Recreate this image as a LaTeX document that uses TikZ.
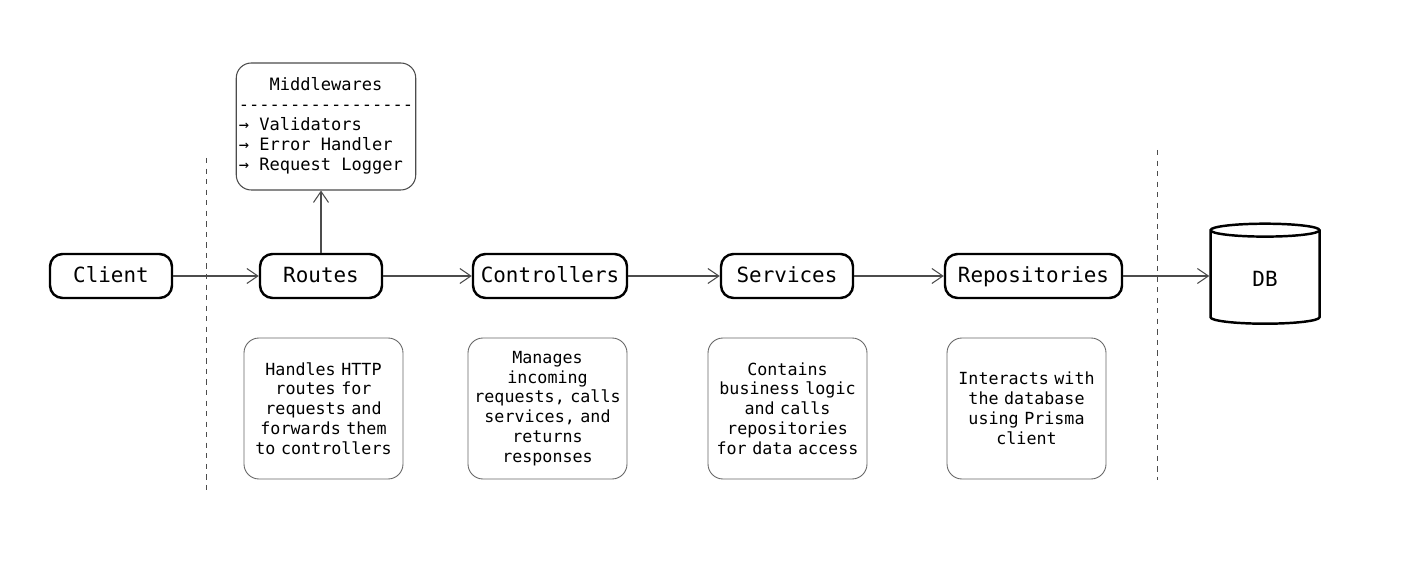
\documentclass[tikz,border=0pt]{standalone}
\usepackage{fontspec}
\setmonofont{DejaVu Sans Mono}
\usetikzlibrary{arrows.meta}
\usetikzlibrary{shapes.geometric}
\newcommand{\drawlayer}[3]{
	\node (#2) at #1 [shape=rectangle,draw,line width=1.4pt,rounded corners=2.5mm,minimum height=0.88cm,inner sep=1mm,text height=0.73em,text depth=0pt,font=\ttfamily\fontsize{11.9}{14}\selectfont] {#3};
}
\newcommand{\drawnote}[3]{
	\node (#2) at #1 [shape=rectangle,draw=black!60,line width=0.5pt,rounded corners=3mm,minimum height=2.82cm,minimum width=3.18cm,inner sep=0.5mm,text width=3.08cm,align=center,font=\ttfamily\fontsize{9.5}{11.3}\selectfont] {#3};
}

\begin{document}
\begin{tikzpicture}[flow/.style={draw=black!70,line width=0.6pt,-{Straight Barb[length=2.2mm,width=3mm]}}]
	\useasboundingbox (0,0) rectangle (28.24,-11.56);
	\drawlayer{(2.22,-5.52)}{client}{\makebox[2.24cm]{Client}}
	\drawlayer{(6.42,-5.52)}{routes}{\makebox[2.24cm]{Routes}}
	\drawlayer{(11.0,-5.52)}{ctrl}{\makebox[2.88cm]{Controllers}}
	\drawlayer{(15.74,-5.52)}{serv}{\makebox[2.44cm]{Services}}
	\drawlayer{(20.67,-5.52)}{repo}{\makebox[3.34cm]{Repositories}}
	\node (db) at (25.3,-5.58) [shape=cylinder,shape border rotate=90,aspect=0.35,draw,line width=1.4pt,minimum width=2.18cm,minimum height=2.0cm,font=\ttfamily\fontsize{11.9}{14}\selectfont] {DB};
	\node (mw) at (6.52,-2.53) [shape=rectangle,draw=black!70,line width=0.6pt,rounded corners=3mm,minimum width=3.52cm,minimum height=2.54cm,inner sep=0.5mm,font=\ttfamily\fontsize{9.7}{11.3}\selectfont] {\begin{tabular}{@{}l@{}}\multicolumn{1}{@{}c@{}}{Middlewares}\\-----------------\\→ Validators\\→ Error Handler\\→ Request Logger\end{tabular}};
	\drawnote{(6.47,-8.17)}{routesnote}{Handles HTTP\\routes for\\requests and\\forwards them\\to controllers}
	\drawnote{(10.95,-8.17)}{ctrlnote}{Manages\\incoming\\requests, calls\\services, and\\returns\\responses}
	\drawnote{(15.75,-8.17)}{servnote}{Contains\\business logic\\and calls\\repositories\\for data access}
	\drawnote{(20.53,-8.17)}{reponote}{Interacts with\\the database\\using Prisma\\client}
	% boundaries
	\coordinate (la) at (4.12,-3.16); \coordinate (lb) at (4.12,-9.8);
	\coordinate (ra) at (23.14,-3.0); \coordinate (rb) at (23.14,-9.6);
	\draw[dashed,black!70,line width=0.5pt] (la) -- (lb) (ra) -- (rb);
	% request flow
	\draw[flow] (client) -- (routes);
	\draw[flow] (routes) -- (ctrl);
	\draw[flow] (ctrl) -- (serv);
	\draw[flow] (serv) -- (repo);
	\draw[flow] (repo.east) -- (repo.east -| db.west);
	\draw[flow] (routes.north) -- (routes.north |- mw.south);
\end{tikzpicture}
\end{document}
